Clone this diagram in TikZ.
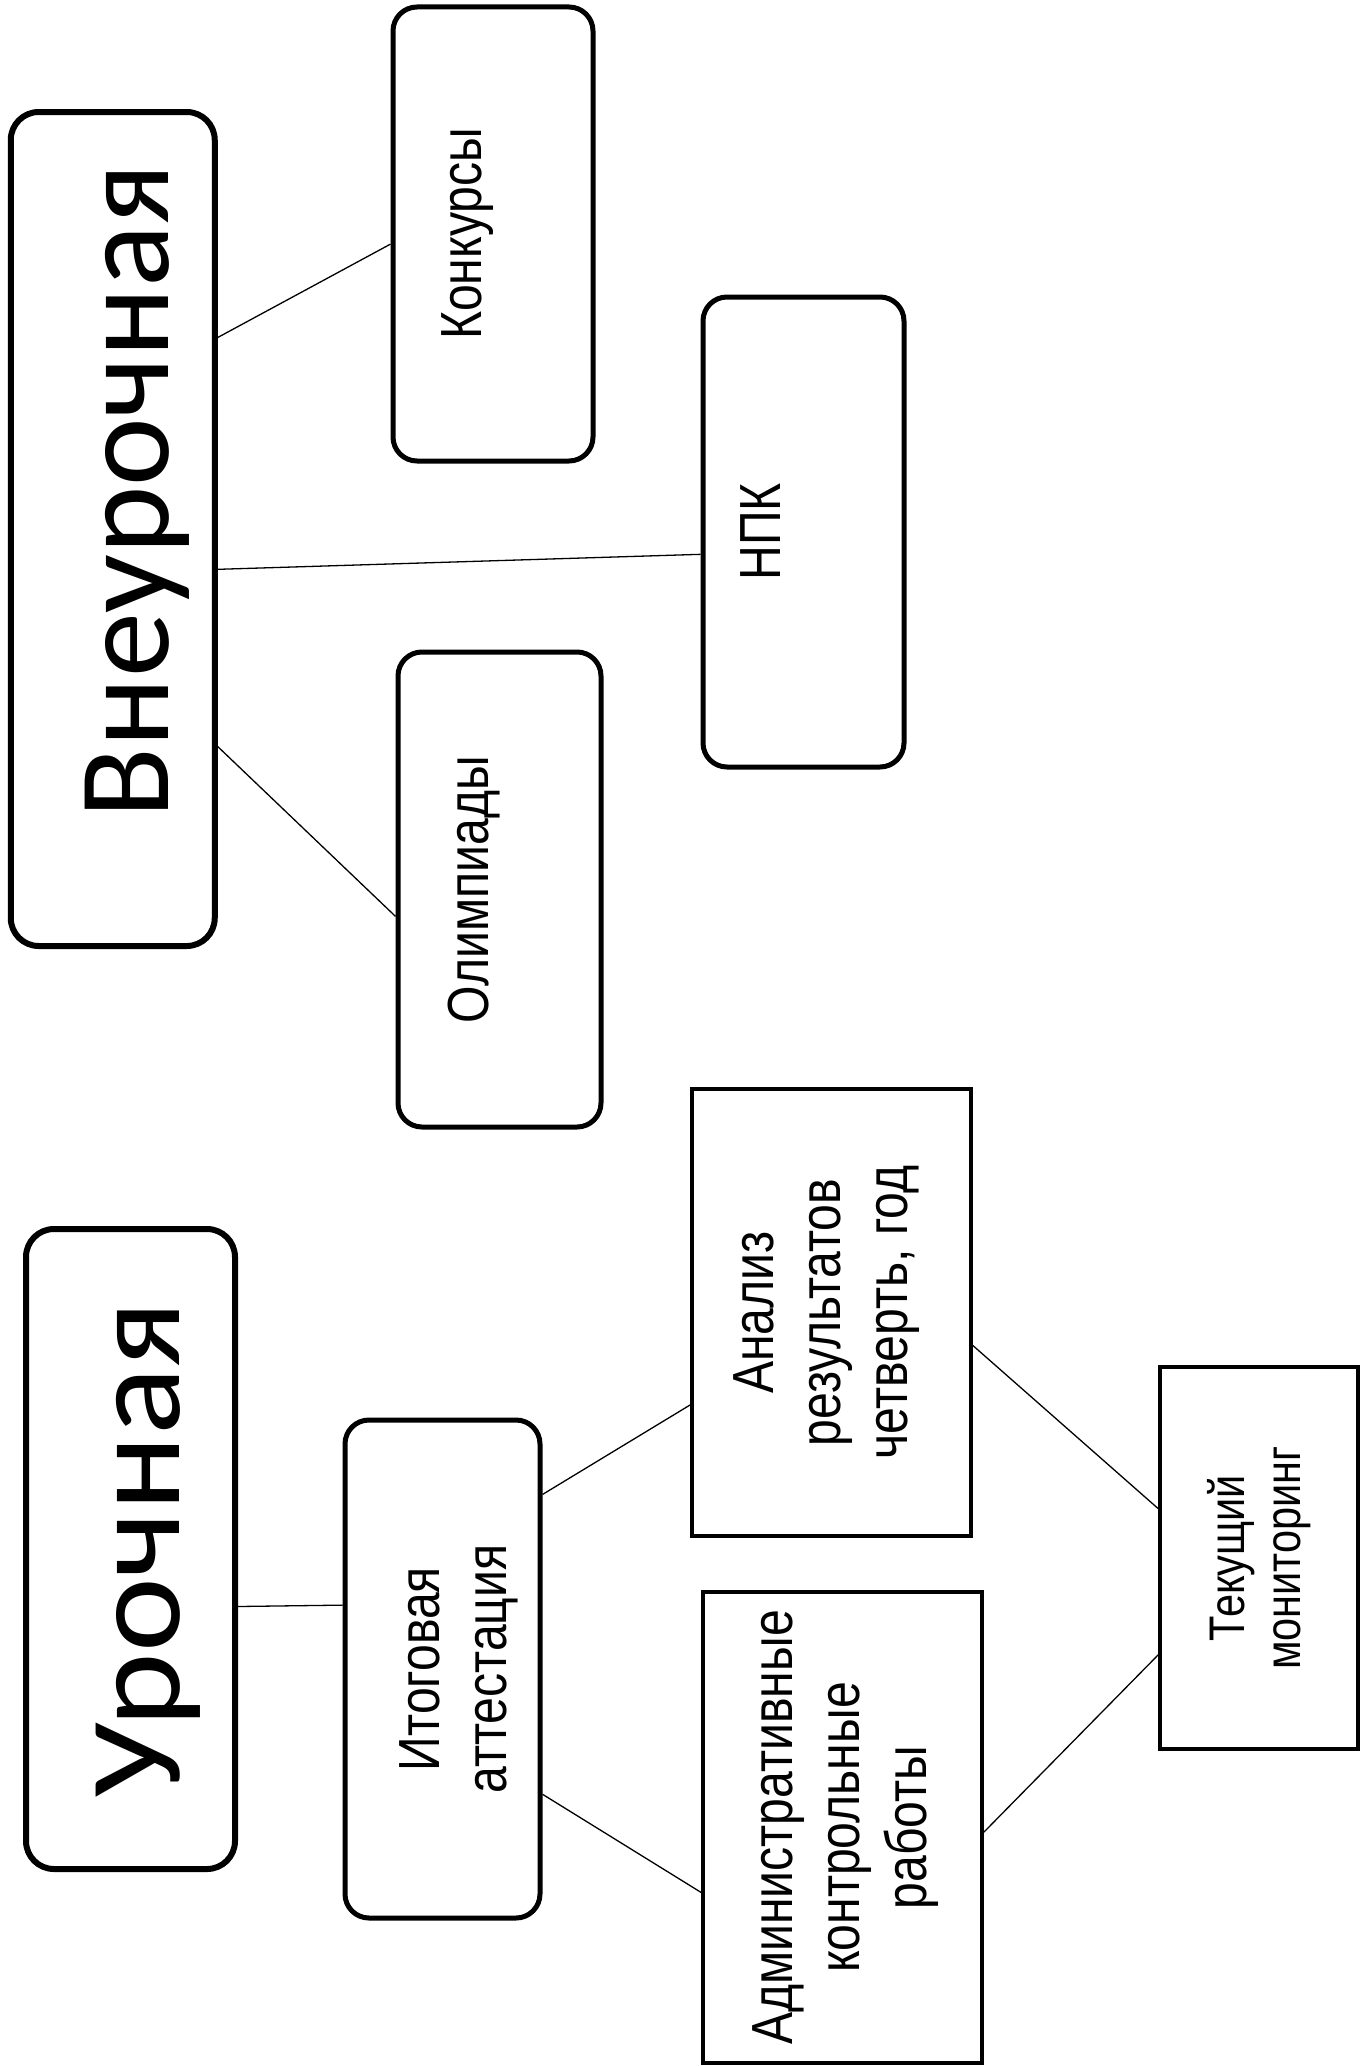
\documentclass[tikz,border=0pt]{standalone}
\usepackage{fontspec}
\setmainfont{Liberation Sans}
\newfontfamily\bigf{Carlito}
\newfontfamily\bigwf[FakeStretch=1.09]{Carlito}
\newfontfamily\narrowf[FakeStretch=0.83]{Liberation Sans}
\usetikzlibrary{calc}
\tikzset{
  bigbox/.style={draw, line width=6pt, rounded corners=28pt, inner sep=0pt},
  rbox/.style={draw, line width=5pt, rounded corners=24pt, inner sep=0pt},
  sbox/.style={draw, line width=3.5pt, inner sep=0pt},
  bigtxt/.style={rotate=90, inner sep=0pt, font=\bigf\fontsize{130}{130}\selectfont},
  smalltxt/.style={rotate=90, inner sep=0pt, align=center, font=\narrowf\fontsize{58}{67}\selectfont},
  link/.style={line width=1.3pt}
}
\begin{document}
\begin{tikzpicture}[x=1pt,y=-1pt]
\useasboundingbox (0,0) rectangle (1367,2066);
% top group
\node[bigbox, minimum width=204pt, minimum height=834pt] (vn) at (112.75,529) {};
\node[bigtxt] (vnT) at ([xshift=25pt,yshift=38pt]vn.center) {Внеурочная};
\node[rbox, minimum width=200pt, minimum height=454pt] (konk) at (493,234) {};
\node[smalltxt] (konkT) at ([xshift=-25pt]konk.center) {Конкурсы};
\node[rbox, minimum width=201pt, minimum height=470pt] (npk) at (803.5,532) {};
\node[smalltxt] (npkT) at ([xshift=-43pt]npk.center) {НПК};
\node[rbox, minimum width=203pt, minimum height=475pt] (olymp) at (499.5,889.5) {};
\node[smalltxt] (olympT) at ([xshift=-25pt]olymp.center) {Олимпиады};
% bottom group
\node[bigbox, minimum width=209pt, minimum height=640pt] (ur) at (130.5,1549) {};
\node[bigtxt, font=\bigwf\fontsize{130}{130}\selectfont] (urT) at ([xshift=18pt]ur.center) {Урочная};
\node[rbox, minimum width=195pt, minimum height=498pt] (itog) at (442.5,1669) {};
\node[smalltxt] (itogT) at ([xshift=16pt]itog.center) {Итоговая\\аттестация};
\node[sbox, minimum width=279pt, minimum height=447pt] (anal) at (831.5,1312.5) {};
\node[smalltxt] (analT) at ([xshift=-5pt]anal.center) {Анализ\\результатов\\четверть, год};
\node[sbox, minimum width=279pt, minimum height=471pt] (admin) at (842.5,1827.5) {};
\node[smalltxt] (adminT) at ([xshift=3pt]admin.center) {Административные\\контрольные\\работы};
\node[sbox, minimum width=198pt, minimum height=382pt] (tek) at (1259,1558) {};
\node[smalltxt, font=\narrowf\fontsize{50}{56}\selectfont] (tekT) at (tek.center) {Текущий\\мониторинг};
% connectors
\draw[link] ($(vn.north east)!0.272!(vn.south east)$) -- ($(konk.north west)!0.522!(konk.south west)$);
\draw[link] ($(vn.north east)!0.548!(vn.south east)$) -- ($(npk.north west)!0.547!(npk.south west)$);
\draw[link] ($(vn.north east)!0.759!(vn.south east)$) -- ($(olymp.north west)!0.556!(olymp.south west)$);
\draw[link] ($(ur.north east)!0.589!(ur.south east)$) -- ($(itog.north west)!0.373!(itog.south west)$);
\draw[link] ($(itog.north east)!0.153!(itog.south east)$) -- ($(anal.north west)!0.705!(anal.south west)$);
\draw[link] ($(itog.north east)!0.749!(itog.south east)$) -- ($(admin.north west)!0.637!(admin.south west)$);
\draw[link] ($(anal.north east)!0.573!(anal.south east)$) -- ($(tek.north west)!0.372!(tek.south west)$);
\draw[link] ($(admin.north east)!0.51!(admin.south east)$) -- ($(tek.north west)!0.751!(tek.south west)$);
\end{tikzpicture}
\end{document}
